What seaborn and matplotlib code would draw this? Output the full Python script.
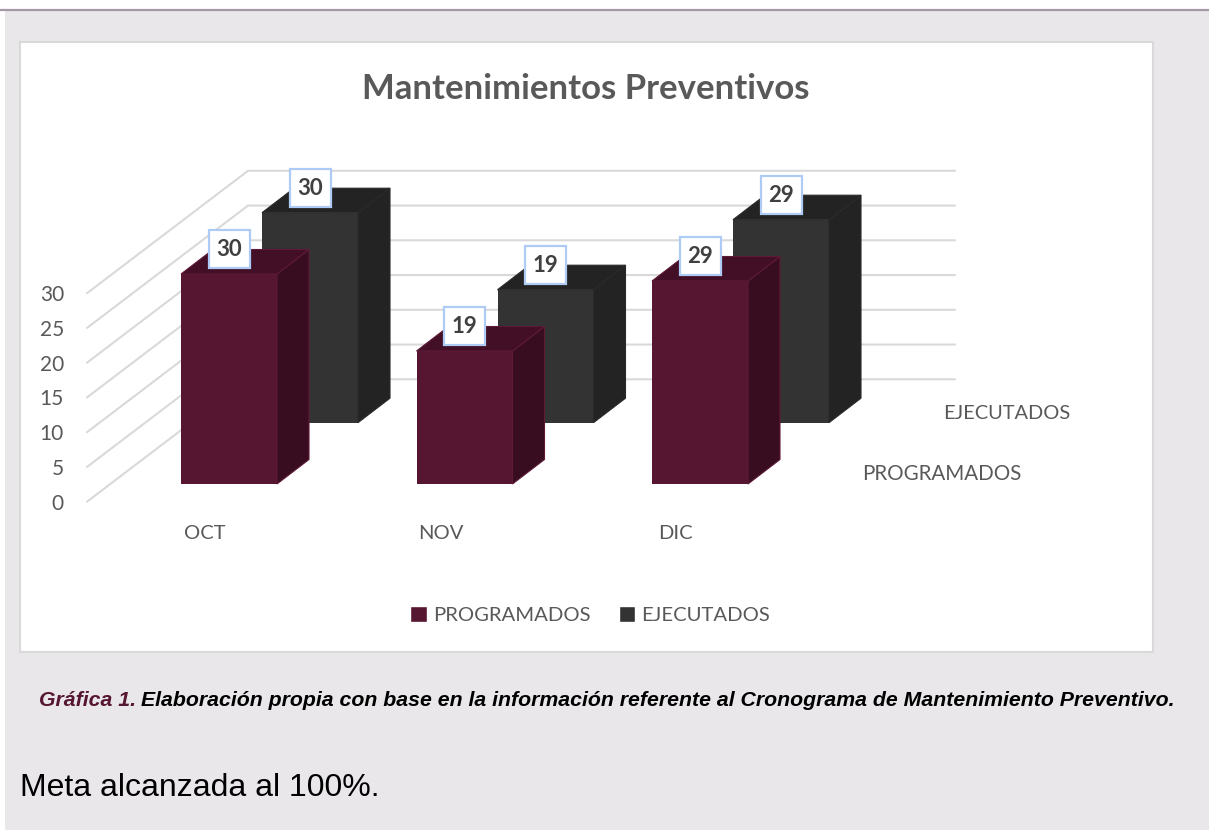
import matplotlib
matplotlib.use("Agg")
import matplotlib.pyplot as plt
from matplotlib.patches import Patch, Rectangle
import seaborn as sns

meses = ["OCT", "NOV", "DIC"]
programados = [30, 19, 29]
ejecutados = [30, 19, 29]
ticks = [0, 5, 10, 15, 20, 25, 30]

W, H = 1209, 830
PAGE = "#e9e7ea"
VINO, VINO_SIDE, VINO_TOP = "#561530", "#380d20", "#420f26"
GRIS, GRIS_SIDE, GRIS_TOP = "#333333", "#232323", "#232323"
TXT = "#595959"
CALIBRI = ["Lato", "DejaVu Sans"]
ARIAL = ["Liberation Sans", "DejaVu Sans"]

# px per category / per value unit
x_px, y_px = 235.5, 7.0
bar_w = 96 / x_px
depth_x, depth_y = 32 / x_px, 24.5 / y_px

sns.set_theme(style="white")
fig = plt.figure(figsize=(W / 100, H / 100), dpi=100, facecolor="white")


def layer(zorder):
    ax = fig.add_axes([0, 0, 1, 1], zorder=zorder)
    ax.set_facecolor("none")
    return ax


def place(ax, ox, oy):
    # ox, oy: pixel of first category centre and of value 0
    ax.set_xlim(-ox / x_px, (W - ox) / x_px)
    ax.set_ylim((oy - H) / y_px, oy / y_px)
    ax.set_xlabel("")
    ax.set_ylabel("")
    ax.axis("off")


def bars3d(ax, valores, color, side, top, edge):
    sns.barplot(x=meses, y=valores, ax=ax, color=color, saturation=1, width=bar_w, linewidth=0)
    for i, v in enumerate(valores):
        r = i + bar_w / 2
        l = i - bar_w / 2
        ax.fill([r, r + depth_x, r + depth_x, r], [0, depth_y, v + depth_y, v],
                facecolor=side, edgecolor=edge, lw=0.8)
        ax.fill([l, l + depth_x, r + depth_x, r], [v, v + depth_y, v + depth_y, v],
                facecolor=top, edgecolor=edge, lw=0.8)


def etiquetas(ax, valores):
    box_w, box_h = 41 / x_px, 38 / y_px
    for i, v in enumerate(valores):
        ax.add_patch(Rectangle((i - box_w / 2, v + depth_y - box_h / 2), box_w, box_h,
                               facecolor="white", edgecolor="#aecbf5", lw=1.6, zorder=5))
        ax.text(i, v + depth_y - 0.05, str(v), ha="center", va="center", fontsize=16,
                fontweight="bold", family=CALIBRI, color="#404040", zorder=6)


# page and chart box
ax_page = layer(0)
ax_page.set_xlim(0, W)
ax_page.set_ylim(H, 0)
ax_page.axis("off")
ax_page.add_patch(Rectangle((5, 10), W - 5, H - 10, facecolor=PAGE, edgecolor="none"))
ax_page.plot([0, W], [10, 10], color="#a596a8", lw=1.6)
ax_page.add_patch(Rectangle((20, 42), 1133, 610, facecolor="white", edgecolor="#d9d9d9", lw=1.5))

# walls: gridlines go from the front left edge to the back wall
grid_scale = 6.95
for v in ticks:
    y_front = 501.7 - v * grid_scale
    y_back = 379.3 - v * grid_scale
    ax_page.plot([87, 248, 955], [y_front, y_back, y_back], color="#d9d9d9", lw=1.5)
    ax_page.text(64, y_front + 2, str(v), ha="right", va="center", fontsize=15,
                 family=CALIBRI, color=TXT)

ax_page.text(586, 89, "Mantenimientos Preventivos", ha="center", va="center",
             fontsize=25, fontweight="bold", family=CALIBRI, color=TXT)
for mes, x in zip(meses, [205, 441, 675]):
    ax_page.text(x, 533, mes, ha="center", va="center", fontsize=14.5, family=CALIBRI, color=TXT)
ax_page.text(943, 413, "EJECUTADOS", ha="left", va="center", fontsize=14.4, family=CALIBRI, color=TXT)
ax_page.text(862, 474, "PROGRAMADOS", ha="left", va="center", fontsize=14.8, family=CALIBRI, color=TXT)

cap1 = ax_page.text(39, 700, "Gráfica 1.", ha="left", va="center", fontsize=15.3, fontweight="bold",
                    fontstyle="italic", family=ARIAL, color=VINO)
fig.canvas.draw()
x_cap = cap1.get_window_extent().x1 + 5
ax_page.text(x_cap, 700, "Elaboración propia con base en la información referente al Cronograma de Mantenimiento Preventivo.",
             ha="left", va="center", fontsize=15.3, fontweight="bold", fontstyle="italic",
             family=ARIAL, color="black")
ax_page.text(20, 788, "Meta alcanzada al 100%.", ha="left", va="center", fontsize=23,
             family=ARIAL, color="black")

# back row, then front row
ax_back = layer(1)
bars3d(ax_back, ejecutados, GRIS, GRIS_SIDE, GRIS_TOP, "#2a2a2a")
place(ax_back, 310, 422.7)

ax_front = layer(2)
bars3d(ax_front, programados, VINO, VINO_SIDE, VINO_TOP, "#5e1a37")
place(ax_front, 229, 484)

# labels sit above both rows
ax_lab_b = layer(3)
etiquetas(ax_lab_b, ejecutados)
place(ax_lab_b, 310, 422.7)
ax_lab_f = layer(4)
etiquetas(ax_lab_f, programados)
place(ax_lab_f, 229, 484)

handles = [Patch(facecolor=VINO, label="PROGRAMADOS"), Patch(facecolor=GRIS, label="EJECUTADOS")]
leg = fig.legend(handles=handles, loc="center", bbox_to_anchor=(590 / W, 1 - 615 / H), ncol=2,
                 frameon=False, handlelength=0.8, handleheight=0.8, handletextpad=0.3,
                 columnspacing=1.4, prop={"family": CALIBRI, "size": 14.6})
leg.set_zorder(10)
for t in leg.get_texts():
    t.set_color(TXT)

fig.savefig("out.png", dpi=100, facecolor="white")
